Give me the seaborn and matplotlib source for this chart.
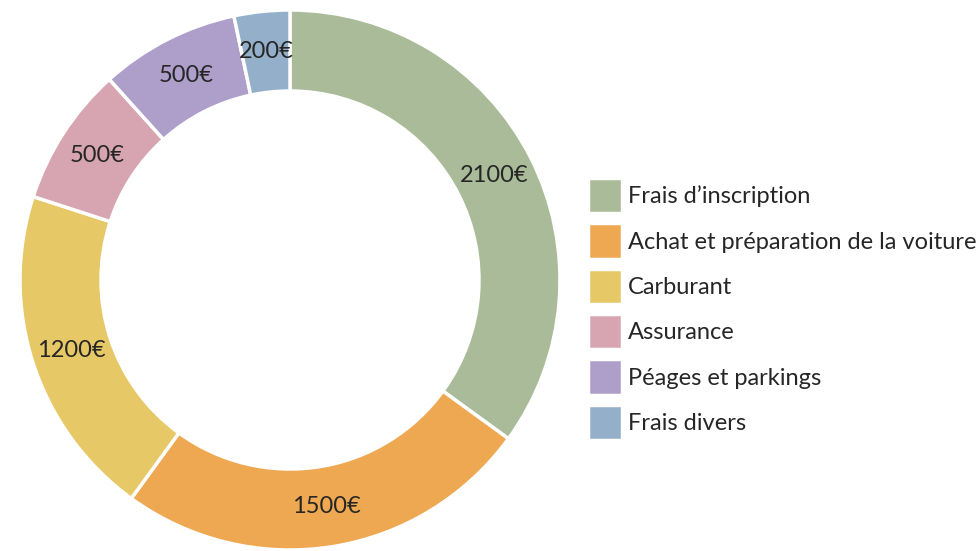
import seaborn as sns
import matplotlib.pyplot as plt
import pandas as pd

# Budget data
categories = ['Frais d\u2019inscription', 'Achat et préparation de la voiture', 'Carburant',
              'Assurance', 'Péages et parkings', 'Frais divers']
amounts = [2100, 1500, 1200, 500, 500, 200]
colors = ['#A9BB98', '#EEA851', '#E6C867', '#D7A5B2', '#AE9ECA', '#93AFC9']

df = pd.DataFrame({'categorie': categories, 'montant': amounts})

sns.set_theme(style='white')
plt.rcParams['font.family'] = ['Lato', 'DejaVu Sans']

fig = plt.figure(figsize=(9.76, 5.51), dpi=100)
W, H = 976, 551
# donut axes: centre (290, 280) px, radius 270 px
ax = fig.add_axes([20 / W, (H - 280 - 270) / H, 540 / W, 540 / H])

wedges, texts, autotexts = ax.pie(
    df['montant'], colors=sns.color_palette(colors), startangle=90, counterclock=False,
    radius=1, pctdistance=0.85,
    autopct=lambda p: f'{p * df["montant"].sum() / 100:.0f}€',
    wedgeprops=dict(width=0.30, edgecolor='white', linewidth=2.5),
    textprops=dict(fontsize=17, color='#262626'))
ax.set_xlim(-1, 1)
ax.set_ylim(-1, 1)
ax.set_aspect('equal')
ax.axis('off')

leg = fig.legend(wedges, df['categorie'], loc='upper left',
                 bbox_to_anchor=(588 / W, 1 - 178 / H), frameon=False,
                 fontsize=17, handlelength=1.45, handleheight=1.93,
                 labelspacing=0.42, handletextpad=0.25, borderpad=0, borderaxespad=0)
for t in leg.get_texts():
    t.set_color('#262626')

plt.savefig('out.png', dpi=100)
